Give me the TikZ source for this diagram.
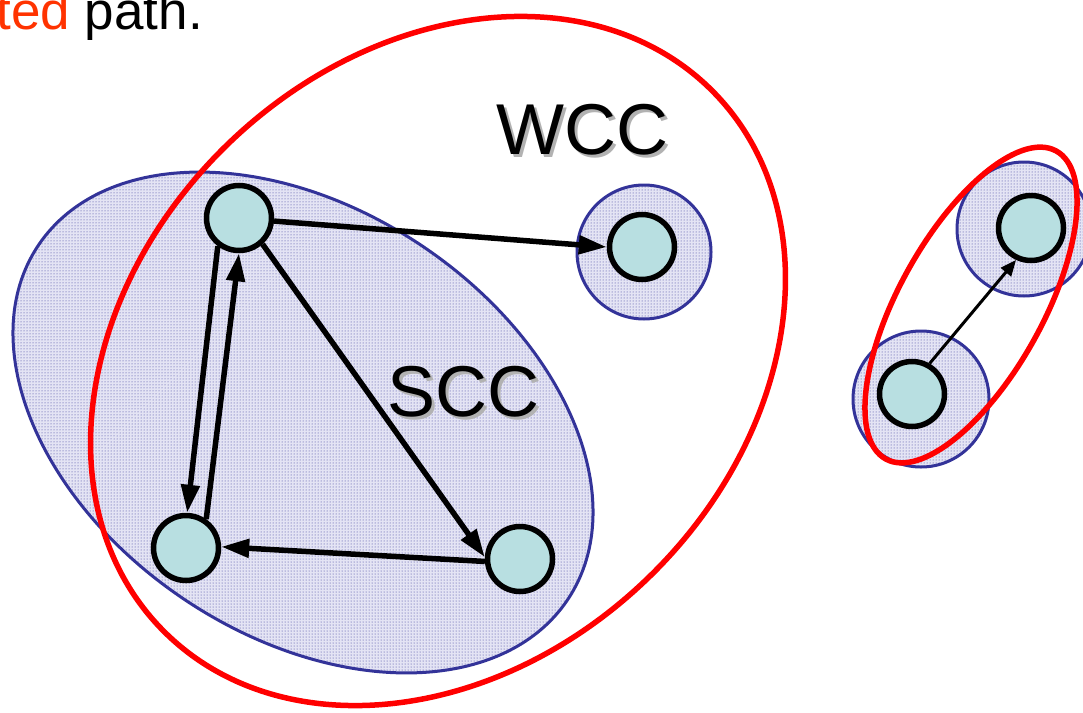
\documentclass[tikz,border=0pt]{standalone}
\usepackage{fontspec}
\setmainfont{Liberation Sans}
\usetikzlibrary{arrows.meta,patterns}
\definecolor{sccblue}{RGB}{51,51,153}
\definecolor{sccbg}{RGB}{228,228,244}
\definecolor{wccred}{RGB}{255,0,0}
\definecolor{nodefill}{RGB}{184,223,225}
\definecolor{hl}{RGB}{255,51,0}
\definecolor{shadowgray}{RGB}{178,178,178}
\begin{document}
\begin{tikzpicture}[x=1pt,y=-1pt,
  vtx/.style={circle, draw=black, line width=5.5pt, fill=nodefill, minimum size=65pt, inner sep=0pt},
  sccarea/.style={draw=sccblue, line width=3pt, preaction={fill=sccbg}, preaction={pattern=dots, pattern color=sccblue}},
  wcc/.style={draw=wccred, line width=5.5pt},
  edge/.style={line width=5.5pt, -{Triangle[length=28pt,width=18pt]}},
  thinedge/.style={line width=3pt, -{Triangle[length=16pt,width=13pt]}},
  big/.style={font=\fontsize{72}{80}\selectfont, inner sep=0pt, anchor=base west}]
\clip (0,0) rectangle (1083,712);
\fill[white] (0,0) rectangle (1083,712);
% SCC areas
\draw[sccarea, rotate around={-33.8:(303,422.5)}] (303,422.5) ellipse [x radius=318.5pt, y radius=213pt];
\draw[sccarea] (644,252) circle [radius=67pt];
\draw[sccarea] (921,399) circle [radius=68pt];
\draw[sccarea] (1024,229) circle [radius=67pt];
% WCC outlines
\draw[wcc, rotate around={44:(438,361)}] (438,361) ellipse [x radius=385pt, y radius=302pt];
\draw[wcc, rotate around={61:(971,305)}] (971,305) ellipse [x radius=176pt, y radius=72pt];
% vertices
\node[vtx] (A) at (239,218) {};
\node[vtx] (B) at (186,548) {};
\node[vtx] (C) at (520,559) {};
\node[vtx] (D) at (642,247) {};
\node[vtx] (E) at (912,394) {};
\node[vtx] (F) at (1031,228) {};
% edges
\draw[edge] (A.233) -- (B.88);
\draw[edge] (B.55) -- (A.270);
\draw[edge] (A.312) -- (C.177);
\draw[edge] (C.184) -- (B.2);
\draw[edge] (A.355) -- (D.180);
\draw[thinedge] (E.60) -- (F.245);
% labels
\node[big, text=shadowgray] (wccs) at (499,157) {WCC};
\node[big] (wcc) at (496,154) {WCC};
\node[big, text=shadowgray] (sccs) at (390,419) {SCC};
\node[big] (scc) at (387,416) {SCC};
\node[anchor=base east, inner sep=0pt, font=\fontsize{53}{60}\selectfont] (title) at (203,29) {\textcolor{hl}{ted} path.};
\end{tikzpicture}
\end{document}
